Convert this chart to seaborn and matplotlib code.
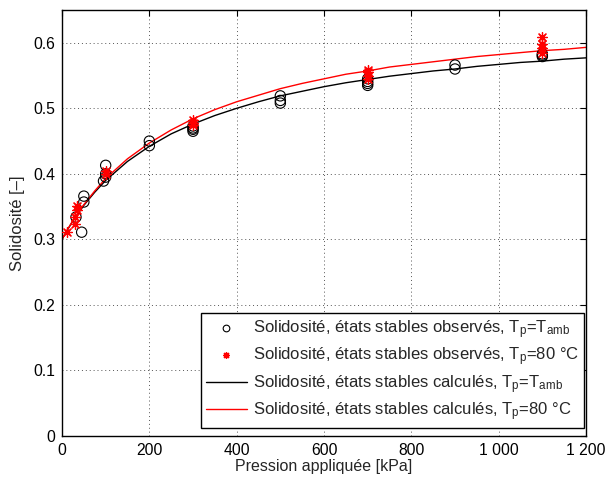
import numpy as np
import pandas as pd
import matplotlib
matplotlib.use("Agg")
import matplotlib.pyplot as plt
from matplotlib.lines import Line2D
import seaborn as sns

# ---- data ----
obs_amb_p = [45, 32, 50, 50, 95, 100, 100, 100, 200, 200, 300, 300, 300, 300,
             500, 500, 500, 700, 700, 700, 700, 900, 900, 1100, 1100, 1100]
obs_amb_phi = [0.311, 0.334, 0.357, 0.366, 0.389, 0.395, 0.400, 0.413, 0.450, 0.443,
               0.465, 0.468, 0.470, 0.473, 0.508, 0.512, 0.519, 0.535, 0.538, 0.541,
               0.545, 0.560, 0.566, 0.579, 0.581, 0.583]

obs_80_p = [12, 30, 30, 35, 35, 100, 100, 300, 300, 300, 700, 700, 700, 700,
            1100, 1100, 1100, 1100]
obs_80_phi = [0.312, 0.323, 0.334, 0.345, 0.351, 0.400, 0.404, 0.474, 0.478, 0.482,
              0.545, 0.550, 0.555, 0.559, 0.585, 0.592, 0.598, 0.609]

calc_p = [0, 10, 25, 50, 75, 100, 150, 200, 250, 300, 350, 400, 450, 500, 550, 600,
          650, 700, 750, 800, 850, 900, 950, 1000, 1050, 1100, 1150, 1200]
calc_amb_phi = [0.300, 0.312, 0.328, 0.352, 0.372, 0.390, 0.419, 0.442, 0.461, 0.476,
                0.489, 0.500, 0.510, 0.519, 0.526, 0.533, 0.539, 0.544, 0.549, 0.553,
                0.557, 0.560, 0.564, 0.567, 0.570, 0.572, 0.575, 0.577]
calc_80_phi = [0.300, 0.312, 0.329, 0.353, 0.374, 0.393, 0.423, 0.447, 0.467, 0.484,
               0.498, 0.510, 0.520, 0.530, 0.538, 0.545, 0.552, 0.557, 0.563, 0.567,
               0.571, 0.575, 0.579, 0.582, 0.585, 0.588, 0.590, 0.593]

x_ticks = [0, 200, 400, 600, 800, 1000, 1200]
x_ticklabels = ["0", "200", "400", "600", "800", "1 000", "1 200"]
y_ticks = [0, 0.1, 0.2, 0.3, 0.4, 0.5, 0.6]
y_ticklabels = ["0", "0.1", "0.2", "0.3", "0.4", "0.5", "0.6"]

labels = [
    "Solidosité, états stables observés, T$_\\mathrm{p}$=T$_\\mathrm{amb}$",
    "Solidosité, états stables observés, T$_\\mathrm{p}$=80 °C",
    "Solidosité, états stables calculés, T$_\\mathrm{p}$=T$_\\mathrm{amb}$",
    "Solidosité, états stables calculés, T$_\\mathrm{p}$=80 °C",
]

# ---- style ----
sns.set_style("white")
plt.rcParams["font.family"] = ["Liberation Sans", "DejaVu Sans"]
plt.rcParams["mathtext.fontset"] = "custom"
plt.rcParams["mathtext.rm"] = "Liberation Sans"
plt.rcParams["mathtext.it"] = "Liberation Sans:italic"
plt.rcParams["mathtext.bf"] = "Liberation Sans:bold"

fig = plt.figure(figsize=(6.05, 4.79), dpi=100)
ax = fig.add_axes([0.1025, 0.0898, 0.8661, 0.8893])

df_calc = pd.DataFrame({"p": calc_p, "amb": calc_amb_phi, "c80": calc_80_phi})
sns.lineplot(data=df_calc, x="p", y="amb", color="black", linewidth=1.0, ax=ax)
sns.lineplot(data=df_calc, x="p", y="c80", color="red", linewidth=1.0, ax=ax)

asterisk = (8, 2, 0)
sns.scatterplot(x=obs_amb_p, y=obs_amb_phi, marker="o", s=55, facecolors="none",
                edgecolor="black", linewidth=0.8, ax=ax, zorder=3)
sns.scatterplot(x=obs_80_p, y=obs_80_phi, marker=asterisk, s=50, color="red",
                linewidth=0.9, ax=ax, zorder=4)

ax.set_xlim(0, 1200)
ax.set_ylim(0, 0.65)
ax.set_xticks(x_ticks)
ax.set_xticklabels(x_ticklabels)
ax.set_yticks(y_ticks)
ax.set_yticklabels(y_ticklabels)
ax.tick_params(direction="in", length=4, width=0.8, top=True, right=True,
               labelsize=11.3, colors="black", pad=5)
ax.grid(True, color="#555555", linestyle=(0, (1, 3)), linewidth=0.7)
for s in ax.spines.values():
    s.set_color("black")
    s.set_linewidth(1.0)

ax.set_xlabel("Pression appliquée [kPa]", fontsize=11.5, labelpad=1)
ax.set_ylabel("Solidosité [–]", fontsize=12, labelpad=6)

handles = [
    Line2D([], [], linestyle="none", marker="o", markersize=4.8,
           markerfacecolor="none", markeredgecolor="black", markeredgewidth=0.8),
    Line2D([], [], linestyle="none", marker=asterisk, markersize=5,
           color="red", markeredgewidth=0.9),
    Line2D([], [], color="black", linewidth=1.0),
    Line2D([], [], color="red", linewidth=1.0),
]
leg = ax.legend(handles, labels, loc="lower right", bbox_to_anchor=(0.996, 0.019),
                borderaxespad=0, fontsize=12, frameon=True, fancybox=False,
                framealpha=1, edgecolor="black", handlelength=2.45,
                handletextpad=0.38, labelspacing=0.28, borderpad=0.3)
leg.get_frame().set_linewidth(1.0)

fig.savefig("out.png", dpi=100)
